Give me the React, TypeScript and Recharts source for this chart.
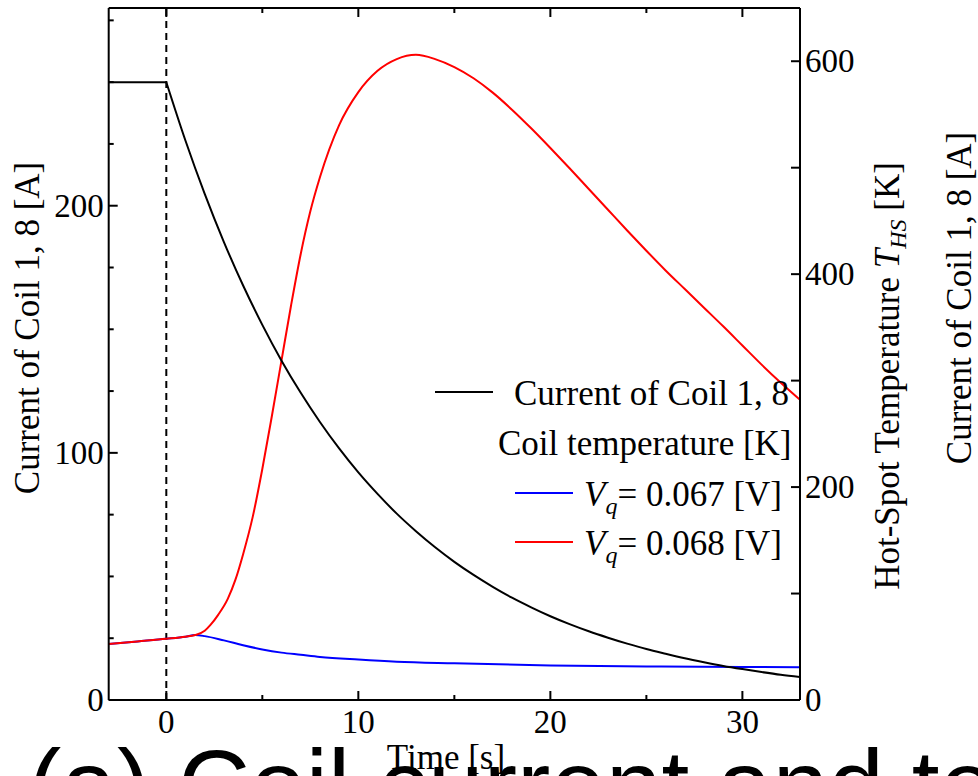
import React from 'react';
import { LineChart, Line, XAxis, YAxis, ReferenceLine } from 'recharts';

// ---- data ----
const currentTimes = [-3, 0, 1, 2, 3, 4, 5, 6, 7, 8, 9, 10, 11, 12, 13, 14, 15, 16, 17, 18, 19, 20, 21, 22, 23, 24, 25, 26, 27, 28, 29, 30, 31, 32, 33];
const currentValues = [250, 250, 226.3, 204.8, 185.3, 167.7, 151.8, 137.3, 124.3, 112.5, 101.8, 92.1, 83.4, 75.4, 68.3, 61.8, 55.9, 50.6, 45.8, 41.4, 37.5, 33.9, 30.7, 27.8, 25.2, 22.8, 20.6, 18.7, 16.9, 15.3, 13.8, 12.5, 11.3, 10.2, 9.3];

const blueTimes = [-3, -1.5, 0, 1, 1.5, 2, 3, 4, 5, 6, 7, 8, 10, 12, 15, 20, 25, 30, 33];
const blueValues = [52.5, 55, 57.5, 59.5, 61, 60, 56, 51.5, 47.5, 44.5, 42.5, 40.5, 38, 36, 34.5, 32.5, 31.5, 31, 30.8];

const redTimes = [-3, -1.5, 0, 1, 1.5, 2, 2.3, 2.7, 3.2, 3.6, 4, 4.5, 5, 5.5, 6, 6.5, 7, 7.5, 8, 9, 10, 11, 12, 13, 14, 15, 16, 17, 18, 19, 20, 21, 22, 23, 24, 25, 26, 27, 28, 29, 30, 31, 32, 33];
const redValues = [52.5, 55, 57.5, 59.5, 61, 65, 70.5, 80, 95, 113, 137, 172, 217, 267, 319, 371, 419, 459, 491, 540, 571, 591, 602, 606, 602, 594.5, 584, 570.5, 554.5, 537, 518.5, 499.5, 480, 460.5, 441, 422, 403.5, 386, 368.5, 351, 333, 315, 298, 282];

const xTicks = [0, 5, 10, 15, 20, 25, 30];
const xLabelTicks = [0, 10, 20, 30];
const leftTicks = [0, 25, 50, 75, 100, 125, 150, 175, 200, 225, 250, 275];
const leftLabelTicks = [0, 100, 200];
const rightTicks = [0, 100, 200, 300, 400, 500, 600];
const rightLabelTicks = [0, 200, 400, 600];

const legendCurrent = 'Current of Coil 1, 8';
const legendTempTitle = 'Coil temperature [K]';
const legendBlue = '= 0.067 [V]';
const legendRed = '= 0.068 [V]';
const leftTitle = 'Current of Coil 1, 8 [A]';
const rightTitle = 'Hot-Spot Temperature ';
const xTitle = 'Time [s]';
const caption = '(a) Coil current and temperature';

// ---- build series ----
const flatIdx = currentTimes.indexOf(0);
const currentFlat = currentTimes.slice(0, flatIdx + 1).map((t, i) => ({ t, v: currentValues[i] }));
const currentDecay = currentTimes.slice(flatIdx).map((t, i) => ({ t, v: currentValues[i + flatIdx] }));
const blueData = blueTimes.map((t, i) => ({ t, v: blueValues[i] }));
const redData = redTimes.map((t, i) => ({ t, v: redValues[i] }));

const SERIF = "'Liberation Serif', 'Times New Roman', Times, serif";
const SANS = "'Liberation Sans', Arial, Helvetica, sans-serif";
const TICK_FS = 33;
const FS = 35;

const BottomTick = (props: any) => {
  const { x, y, payload } = props;
  const v = payload.value;
  const major = xLabelTicks.includes(v);
  return (
    <g>
      <line x1={x} x2={x} y1={y} y2={y - (major ? 9 : 5)} stroke="#000" strokeWidth={2} />
      {major && (
        <text x={x} y={y + 33} textAnchor="middle" fontSize={TICK_FS} fontFamily={SERIF} fill="#000">
          {v}
        </text>
      )}
    </g>
  );
};

const TopTick = (props: any) => {
  const { x, y, payload } = props;
  const v = payload.value;
  const major = xLabelTicks.includes(v);
  return <line x1={x} x2={x} y1={y} y2={y + (major ? 9 : 5)} stroke="#000" strokeWidth={2} />;
};

const LeftTick = (props: any) => {
  const { x, y, payload } = props;
  const v = payload.value;
  const major = leftLabelTicks.includes(v);
  return (
    <g>
      <line x1={x} x2={x + (major ? 9 : 5)} y1={y} y2={y} stroke="#000" strokeWidth={2} />
      {major && (
        <text x={x - 5} y={y + 11} textAnchor="end" fontSize={TICK_FS} fontFamily={SERIF} fill="#000">
          {v}
        </text>
      )}
    </g>
  );
};

const RightTick = (props: any) => {
  const { x, y, payload } = props;
  const v = payload.value;
  const major = rightLabelTicks.includes(v);
  return (
    <g>
      <line x1={x} x2={x - 9} y1={y} y2={y} stroke="#000" strokeWidth={2} />
      {major && (
        <text x={x + 5} y={y + 11} textAnchor="start" fontSize={TICK_FS} fontFamily={SERIF} fill="#000">
          {v}
        </text>
      )}
    </g>
  );
};

const axisLine = { stroke: '#000', strokeWidth: 2 };

export default function App() {
  return (
    <div style={{ position: 'absolute', left: 0, top: 0, width: 978, height: 776, overflow: 'hidden', background: '#fff' }}>
      <LineChart width={978} height={776} margin={{ top: 0, right: 0, bottom: 0, left: 0 }}>
        <XAxis
          xAxisId="b"
          dataKey="t"
          type="number"
          domain={[-3, 33]}
          allowDataOverflow
          ticks={xTicks}
          interval={0}
          height={76}
          orientation="bottom"
          axisLine={axisLine}
          tickLine={false}
          tickSize={0}
          tickMargin={0}
          tick={<BottomTick />}
        />
        <XAxis
          xAxisId="t"
          dataKey="t"
          type="number"
          domain={[-3, 33]}
          allowDataOverflow
          ticks={xTicks}
          interval={0}
          height={8}
          orientation="top"
          axisLine={axisLine}
          tickLine={false}
          tickSize={0}
          tickMargin={0}
          tick={<TopTick />}
        />
        <YAxis
          yAxisId="L"
          type="number"
          domain={[0, 280]}
          allowDataOverflow
          ticks={leftTicks}
          interval={0}
          width={108.7}
          orientation="left"
          axisLine={axisLine}
          tickLine={false}
          tickSize={0}
          tickMargin={0}
          tick={<LeftTick />}
        />
        <YAxis
          yAxisId="R"
          type="number"
          domain={[0, 650]}
          allowDataOverflow
          ticks={rightTicks}
          interval={0}
          width={178}
          orientation="right"
          axisLine={axisLine}
          tickLine={false}
          tickSize={0}
          tickMargin={0}
          tick={<RightTick />}
        />
        <ReferenceLine xAxisId="b" yAxisId="L" x={0} stroke="#000" strokeWidth={2} strokeDasharray="7 5" />
        <Line xAxisId="b" yAxisId="R" data={blueData} dataKey="v" type="monotone" stroke="#0000ff" strokeWidth={2} dot={false} isAnimationActive={false} />
        <Line xAxisId="b" yAxisId="R" data={redData} dataKey="v" type="monotone" stroke="#ff0000" strokeWidth={2} dot={false} isAnimationActive={false} />
        <Line xAxisId="b" yAxisId="L" data={currentFlat} dataKey="v" type="linear" stroke="#000" strokeWidth={2} dot={false} isAnimationActive={false} />
        <Line xAxisId="b" yAxisId="L" data={currentDecay} dataKey="v" type="monotone" stroke="#000" strokeWidth={2} dot={false} isAnimationActive={false} />
      </LineChart>
      <svg width={978} height={776} style={{ position: 'absolute', left: 0, top: 0, pointerEvents: 'none' }}>
        {/* legend */}
        <line x1={435} x2={493} y1={392} y2={392} stroke="#000" strokeWidth={2} />
        <text x={514} y={405} fontSize={FS} fontFamily={SERIF} fill="#000">{legendCurrent}</text>
        <text x={498} y={455} fontSize={FS} fontFamily={SERIF} fill="#000">{legendTempTitle}</text>
        <line x1={515} x2={573} y1={493} y2={493} stroke="#0000ff" strokeWidth={2} />
        <text x={584} y={506} fontSize={FS} fontFamily={SERIF} fill="#000">
          <tspan fontStyle="italic">V</tspan>
          <tspan fontStyle="italic" fontSize={24} dy={8}>q</tspan>
          <tspan dy={-8}>{legendBlue}</tspan>
        </text>
        <line x1={515} x2={573} y1={542} y2={542} stroke="#ff0000" strokeWidth={2} />
        <text x={584} y={555} fontSize={FS} fontFamily={SERIF} fill="#000">
          <tspan fontStyle="italic">V</tspan>
          <tspan fontStyle="italic" fontSize={24} dy={8}>q</tspan>
          <tspan dy={-8}>{legendRed}</tspan>
        </text>
        {/* axis titles */}
        <text transform="translate(39,328) rotate(-90)" textAnchor="middle" fontSize={FS} fontFamily={SERIF} fill="#000">{leftTitle}</text>
        <text transform="translate(899,376) rotate(-90)" textAnchor="middle" fontSize={FS} fontFamily={SERIF} fill="#000">
          {rightTitle}
          <tspan fontStyle="italic">T</tspan>
          <tspan fontStyle="italic" fontSize={24} dy={7}>HS</tspan>
          <tspan dy={-7}> [K]</tspan>
        </text>
        <text transform="translate(971,298) rotate(-90)" textAnchor="middle" fontSize={FS} fontFamily={SERIF} fill="#000">{leftTitle}</text>
        <text x={28} y={820} fontSize={100} fontFamily={SANS} fill="#000">{caption}</text>
        <text x={446} y={769} textAnchor="middle" fontSize={FS} fontFamily={SERIF} fill="#000">{xTitle}</text>
      </svg>
    </div>
  );
}
